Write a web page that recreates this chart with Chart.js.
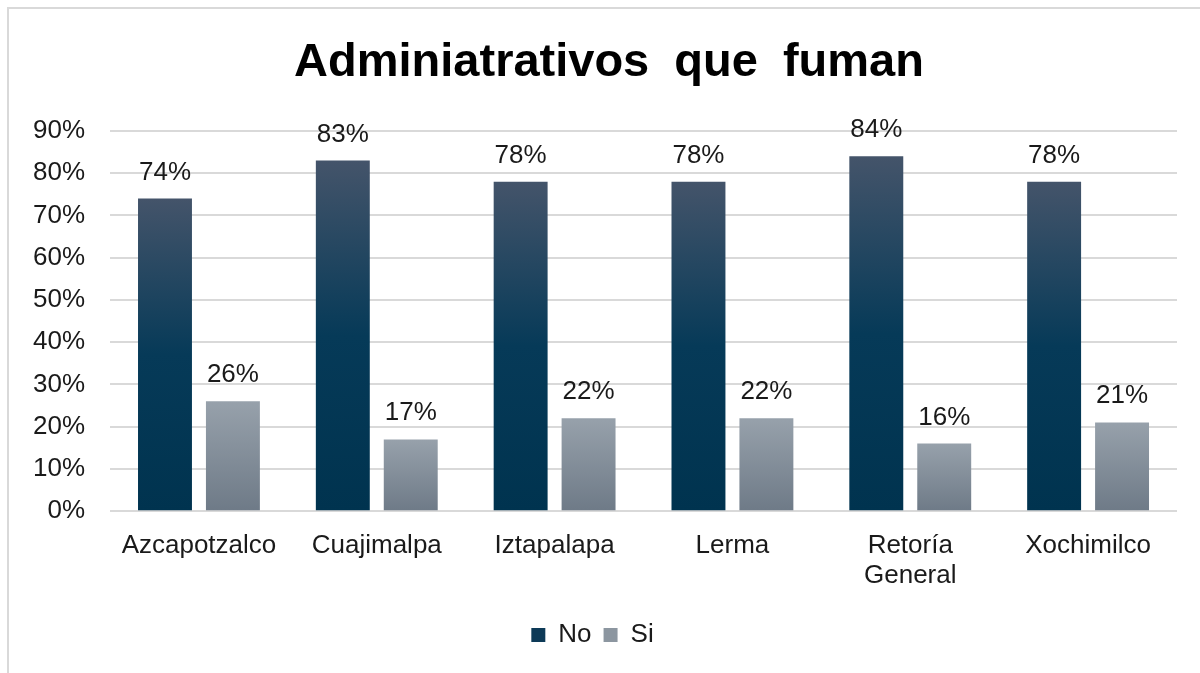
<!DOCTYPE html>
<html>
<head>
<meta charset="utf-8">
<script src="https://cdn.jsdelivr.net/npm/chart.js@4"></script>
<style>
    html, body { margin: 0; padding: 0; background: #fff; overflow: hidden; }
    .frame {
        position: absolute; left: 7px; top: 7px; width: 1300px; height: 800px;
        border-left: 2px solid #d9d9d9; border-top: 2px solid #d9d9d9;
    }
    .wrap { position: absolute; left: 0; top: 0; width: 1200px; height: 673px; }
</style>
</head>
<body>
<div class="frame"></div>
<div class="wrap"><canvas id="smoke-chart"></canvas></div>
<script>
// Datos del gráfico
const chartTitle = 'Adminiatrativos que fuman';
const categories = ['Azcapotzalco', 'Cuajimalpa', 'Iztapalapa', 'Lerma', ['Retoría', 'General'], 'Xochimilco'];
const seriesNames = ['No', 'Si'];
const noValues = [74, 83, 78, 78, 84, 78];
const siValues = [26, 17, 22, 22, 16, 21];
const yTicks = [0, 10, 20, 30, 40, 50, 60, 70, 80, 90];

const legendColors = ['#0d3a57', '#8c96a0'];

Chart.defaults.font.family = "'Liberation Sans', Arial, sans-serif";
Chart.defaults.color = '#262626';

// Degradado por barra (como en Excel)
function barGradient(stops, solid) {
    return (context) => {
        const chart = context.chart;
        const y = chart.scales.y;
        if (!y || context.raw === undefined) return solid;
        const top = y.getPixelForValue(context.raw);
        const base = y.getPixelForValue(0);
        if (!isFinite(top) || !isFinite(base) || top === base) return solid;
        const g = chart.ctx.createLinearGradient(0, top, 0, base);
        stops.forEach(s => g.addColorStop(s[0], s[1]));
        return g;
    };
}

// Título con espacio entre palabras más amplio
const wideTitle = {
    id: 'wideTitle',
    afterDraw(chart) {
        const ctx = chart.ctx;
        ctx.save();
        ctx.font = "bold 47px 'Liberation Sans', Arial, sans-serif";
        ctx.fillStyle = '#000';
        ctx.textAlign = 'center';
        ctx.textBaseline = 'middle';
        if ('wordSpacing' in ctx) ctx.wordSpacing = '12px';
        ctx.fillText(chartTitle, 609, 63);
        ctx.restore();
    }
};

// Etiquetas de datos encima de cada barra
const dataLabels = {
    id: 'dataLabels',
    afterDatasetsDraw(chart) {
        const ctx = chart.ctx;
        ctx.save();
        ctx.font = "26px 'Liberation Sans', Arial, sans-serif";
        ctx.fillStyle = '#1a1a1a';
        ctx.textAlign = 'center';
        ctx.textBaseline = 'alphabetic';
        chart.data.datasets.forEach((ds, i) => {
            chart.getDatasetMeta(i).data.forEach((bar, j) => {
                ctx.fillText(ds.data[j] + '%', bar.x, bar.y - 19);
            });
        });
        ctx.restore();
    }
};

const ctx = document.getElementById('smoke-chart').getContext('2d');
const smokeChart = new Chart(ctx, {
    type: 'bar',
    data: {
        labels: categories,
        datasets: [{
            label: seriesNames[0],
            data: noValues,
            backgroundColor: barGradient([[0, '#44546a'], [0.5, '#063a58'], [1, '#00334f']], '#0d3a57'),
            categoryPercentage: 0.764,
            barPercentage: 0.794
        }, {
            label: seriesNames[1],
            data: siValues,
            backgroundColor: barGradient([[0, '#97a1ab'], [1, '#6e7a87']], '#8c96a0'),
            categoryPercentage: 0.764,
            barPercentage: 0.794
        }]
    },
    options: {
        responsive: true,
        maintainAspectRatio: false,
        animation: false,
        layout: { padding: { left: 8, right: 23, top: 131, bottom: 15 } },
        plugins: {
            title: { display: false },
            legend: {
                position: 'bottom',
                labels: {
                    font: { size: 26 },
                    color: '#1a1a1a',
                    boxWidth: 14,
                    boxHeight: 14,
                    padding: 12,
                    generateLabels: (chart) => chart.data.datasets.map((ds, i) => ({
                        text: ds.label,
                        fillStyle: legendColors[i],
                        strokeStyle: legendColors[i],
                        lineWidth: 0,
                        hidden: false,
                        datasetIndex: i,
                        fontColor: '#1a1a1a'
                    }))
                }
            },
            tooltip: { enabled: false }
        },
        scales: {
            x: {
                grid: { display: false },
                border: { display: false },
                afterFit: (axis) => { axis.height += 7; },
                ticks: {
                    font: { size: 26, lineHeight: 1.15 },
                    color: '#1a1a1a',
                    padding: 12,
                    maxRotation: 0,
                    autoSkip: false
                }
            },
            y: {
                min: 0,
                max: 90,
                afterBuildTicks: (axis) => { axis.ticks = yTicks.map(v => ({ value: v })); },
                grid: { color: '#d9d9d9', lineWidth: 2, drawTicks: false },
                border: { display: false },
                ticks: {
                    font: { size: 26 },
                    color: '#1a1a1a',
                    padding: 25,
                    callback: (value) => value + '%'
                }
            }
        }
    },
    plugins: [dataLabels, wideTitle]
});
</script>
</body>
</html>
